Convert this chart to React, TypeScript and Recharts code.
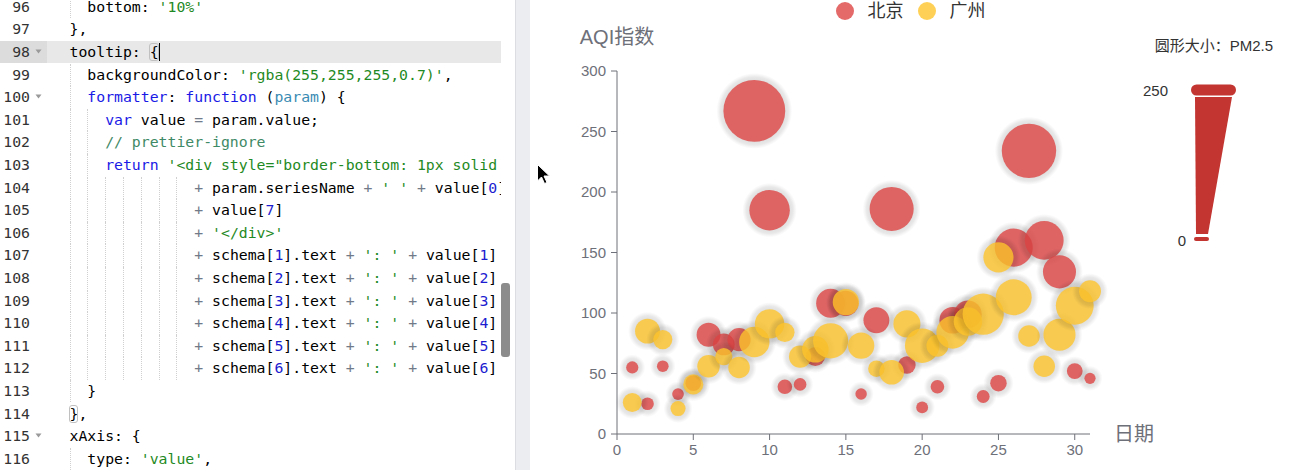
import { ScatterChart, Scatter, XAxis, YAxis } from "recharts";

// --- chart data (AQI scatter, one point per day) ---
const days = [1, 2, 3, 4, 5, 6, 7, 8, 9, 10, 11, 12, 13, 14, 15, 16, 17, 18, 19, 20, 21, 22, 23, 24, 25, 26, 27, 28, 29, 30, 31];
const bjAqi = [55, 25, 56, 33, 42, 82, 74, 78, 267, 185, 39, 41, 64, 108, 108, 33, 94, 186, 57, 22, 39, 94, 99, 31, 42, 154, 234, 160, 134, 52, 46];
const bjPm25 = [9, 11, 7, 7, 24, 58, 49, 55, 216, 127, 19, 11, 38, 79, 63, 6, 66, 142, 31, 8, 15, 69, 73, 12, 27, 117, 185, 120, 96, 24, 5];
const gzAqi = [26, 85, 78, 21, 41, 56, 64, 55, 76, 91, 84, 64, 70, 77, 109, 73, 54, 51, 91, 73, 73, 84, 93, 99, 146, 113, 81, 56, 82, 106, 118];
const gzPm25 = [37, 62, 38, 21, 42, 52, 30, 48, 85, 81, 39, 51, 69, 105, 68, 68, 27, 61, 71, 102, 50, 94, 77, 130, 84, 108, 48, 48, 92, 116, 50];

const seriesNames = ["北京", "广州"];
const seriesColors = ["#dd4444", "#fec42c"];
const xTicks = [0, 5, 10, 15, 20, 25, 30];
const yTicks = [0, 50, 100, 150, 200, 250, 300];
const pmRange = [0, 250];
const sizeRange = [10, 70];

// --- editor text shown on the left (token text, token kind) ---
type Tok = [string, string];
const S16 = "                ";
const schemaLine = (n: number): Tok[] => [
  [S16, "t"], ["+", "o"], [" schema[", "t"], [String(n), "n"], ["].text ", "t"], ["+", "o"], [" ", "t"],
  ["': '", "s"], [" ", "t"], ["+", "o"], [" value[", "t"], [String(n), "n"], ["] ", "t"], ["+", "o"], [" ", "t"], ["'<br>'", "s"],
];
const codeLines: Tok[][] = [
  [["    bottom: ", "t"], ["'10%'", "s"]],
  [["  },", "t"]],
  [["  tooltip: {", "t"]],
  [["    backgroundColor: ", "t"], ["'rgba(255,255,255,0.7)'", "s"], [",", "t"]],
  [["    ", "t"], ["formatter", "k"], [": ", "t"], ["function", "k"], [" (", "t"], ["param", "p"], [") {", "t"]],
  [["      ", "t"], ["var", "k"], [" value ", "t"], ["=", "o"], [" param.value;", "t"]],
  [["      // prettier-ignore", "c"]],
  [["      ", "t"], ["return", "k"], [" ", "t"], ["'<div style=\"border-bottom: 1px solid rgba(255,255,255,.3); font-size: 18px;padding-bottom: 7px;margin-bottom: 7px\">'", "s"]],
  [[S16, "t"], ["+", "o"], [" param.seriesName ", "t"], ["+", "o"], [" ", "t"], ["' '", "s"], [" ", "t"], ["+", "o"], [" value[", "t"], ["0", "n"], ["] ", "t"], ["+", "o"], [" ", "t"], ["'日：'", "s"]],
  [[S16, "t"], ["+", "o"], [" value[", "t"], ["7", "n"], ["]", "t"]],
  [[S16, "t"], ["+", "o"], [" ", "t"], ["'</div>'", "s"]],
  schemaLine(1),
  schemaLine(2),
  schemaLine(3),
  schemaLine(4),
  schemaLine(5),
  schemaLine(6),
  [["    }", "t"]],
  [["  },", "t"]],
  [["  xAxis: {", "t"]],
  [["    type: ", "t"], ["'value'", "s"], [",", "t"]],
];
const firstLineNo = 96;
const foldLines = [98, 100, 115];
const activeLine = 98;

const tokenColors: Record<string, string> = {
  t: "#000000",
  k: "#1a1ae6",
  s: "#1f8a24",
  c: "#3f8a66",
  p: "#3a8bb3",
  n: "#1c1cd0",
  o: "#707a88",
};

const monoFont = "'DejaVu Sans Mono', monospace";
const chartFont = "'Liberation Sans', 'Noto Sans CJK SC', sans-serif";
const CHAR_W = 8.91;
const LINE_H = 22.6;
const CODE_X = 51.7;
const TOP0 = -4.3;
const AXIS_GRAY = "#6e7079";
const HALO = 7;

type Point = { day: number; aqi: number; pm25: number };

function buildSeries(aqi: number[], pm: number[]): Point[] {
  return days.map((d, i) => ({ day: d, aqi: aqi[i], pm25: pm[i] }));
}

const seriesData = [buildSeries(bjAqi, bjPm25), buildSeries(gzAqi, gzPm25)];

/** Visual map: PM2.5 value -> bubble diameter. */
function bubbleDiameter(pm: number): number {
  const t = Math.min(1, Math.max(0, (pm - pmRange[0]) / (pmRange[1] - pmRange[0])));
  return sizeRange[0] + t * (sizeRange[1] - sizeRange[0]);
}

/** Bubble with a soft grey halo drawn right under it (ECharts shadowBlur look). */
function bubbleShape(seriesIdx: number) {
  const color = seriesColors[seriesIdx];
  return (props: any) => {
    const { cx, cy, payload } = props;
    if (cx == null || cy == null) return <g />;
    const r = bubbleDiameter(payload.pm25) / 2;
    const R = r + HALO;
    const gid = `halo-${seriesIdx}-${payload.day}`;
    return (
      <g>
        <defs>
          <radialGradient id={gid} cx={cx} cy={cy} r={R} gradientUnits="userSpaceOnUse">
            <stop offset={r / R} stopColor="#000" stopOpacity={0.12} />
            <stop offset={(r + 3) / R} stopColor="#000" stopOpacity={0.09} />
            <stop offset={(r + 5) / R} stopColor="#000" stopOpacity={0.04} />
            <stop offset={1} stopColor="#000" stopOpacity={0} />
          </radialGradient>
        </defs>
        <circle cx={cx} cy={cy} r={R} fill={`url(#${gid})`} />
        <circle cx={cx} cy={cy} r={r} fill={color} fillOpacity={0.8} />
      </g>
    );
  };
}

function CodePanel() {
  return (
    <div style={{ position: "absolute", left: 0, top: 0, width: 501, height: 470, overflow: "hidden", background: "#fff" }}>
      {codeLines.map((toks, i) => {
        const no = firstLineNo + i;
        const top = TOP0 + i * LINE_H;
        const lead = toks[0][0].length - toks[0][0].trimStart().length;
        const guides: number[] = [];
        for (let c = 2; c < lead; c += 2) guides.push(c);
        return (
          <div key={no} style={{ position: "absolute", left: 0, top, width: 501, height: LINE_H }}>
            {no === activeLine && (
              <>
                <div style={{ position: "absolute", left: 0, top: 0, width: 47, height: LINE_H, background: "#dcdcdc" }} />
                <div style={{ position: "absolute", left: 47, top: 0, width: 454, height: LINE_H, background: "#e8e8e8" }} />
              </>
            )}
            {guides.map((c) => (
              <div
                key={c}
                style={{
                  position: "absolute",
                  left: CODE_X + c * CHAR_W,
                  top: 0,
                  height: LINE_H,
                  borderLeft: "1px dotted #d0d0d0",
                }}
              />
            ))}
            <div
              style={{
                position: "absolute",
                left: 0,
                width: 30,
                top: 0,
                textAlign: "right",
                font: `14.8px ${monoFont}`,
                lineHeight: `${LINE_H}px`,
                color: "#333",
              }}
            >
              {no}
            </div>
            {foldLines.includes(no) && (
              <svg style={{ position: "absolute", left: 35, top: LINE_H / 2 - 3 }} width={8} height={6}>
                <path d="M0.5 0.5 L6.5 0.5 L3.5 4.5 Z" fill="#9a9a9a" />
              </svg>
            )}
            <div
              style={{
                position: "absolute",
                left: CODE_X,
                top: 0,
                whiteSpace: "pre",
                font: `14.8px ${monoFont}`,
                lineHeight: `${LINE_H}px`,
              }}
            >
              {toks.map(([text, kind], j) => (
                <span key={j} style={{ color: tokenColors[kind] }}>
                  {text}
                </span>
              ))}
            </div>
          </div>
        );
      })}
      {/* matching-bracket boxes and the text cursor */}
      <div style={{ position: "absolute", left: CODE_X + 11 * CHAR_W - 1, top: TOP0 + 2 * LINE_H + 2, width: CHAR_W + 1, height: LINE_H - 4, border: "1px solid #c0c0c0", borderRadius: 3, boxSizing: "border-box" }} />
      <div style={{ position: "absolute", left: CODE_X + 12 * CHAR_W, top: TOP0 + 2 * LINE_H + 2, width: 1.5, height: LINE_H - 4, background: "#000" }} />
      <div style={{ position: "absolute", left: CODE_X + 2 * CHAR_W - 1, top: TOP0 + 18 * LINE_H + 2, width: CHAR_W + 1, height: LINE_H - 4, border: "1px solid #c0c0c0", borderRadius: 3, boxSizing: "border-box" }} />
    </div>
  );
}

function VisualMapLegend() {
  const red = "#c23531";
  return (
    <svg style={{ position: "absolute", left: 0, top: 0, pointerEvents: "none" }} width={1291} height={470}>
      <text x={1273} y={45} textAnchor="end" dominantBaseline="central" fontSize={15} fill="#333" fontFamily={chartFont}>
        圆形大小：PM2.5
      </text>
      <text x={1168} y={90} textAnchor="end" dominantBaseline="central" fontSize={15} fill="#333" fontFamily={chartFont}>
        {pmRange[1]}
      </text>
      <text x={1186} y={240} textAnchor="end" dominantBaseline="central" fontSize={15} fill="#333" fontFamily={chartFont}>
        {pmRange[0]}
      </text>
      <polygon points="1195,97 1232,97 1208,234 1196,234" fill={red} />
      <rect x={1191} y={84.5} width={45} height={11} rx={5.5} fill={red} />
      <rect x={1194} y={237} width={15} height={4} rx={2} fill={red} />
      {/* mouse pointer left in the screenshot */}
      <path d="M537.5 164.5 L537.5 181 L541.5 177 L544.5 183.5 L547 182.5 L544 176 L549.5 176 Z" fill="#000" stroke="#fff" strokeWidth={1} />
    </svg>
  );
}

export default function App() {
  return (
    <div style={{ position: "absolute", left: 0, top: 0, width: 1291, height: 470, background: "#fff", overflow: "hidden" }}>
      <CodePanel />
      <div style={{ position: "absolute", left: 501, top: 283, width: 9, height: 74, background: "#8c8c8c", borderRadius: 3 }} />
      <div style={{ position: "absolute", left: 515, top: 0, width: 1, height: 470, background: "#dcdde2" }} />
      <div style={{ position: "absolute", left: 516, top: 0, width: 14, height: 470, background: "#ecedf1" }} />
      <div style={{ position: "absolute", left: 530, top: 0, width: 761, height: 470, background: "#fff", fontFamily: chartFont }}>
        <div style={{ position: "absolute", left: 0, top: 2, width: 761, display: "flex", justifyContent: "center", alignItems: "center", gap: 14 }}>
          {seriesNames.map((name, i) => (
            <div key={name} style={{ display: "flex", alignItems: "center", gap: 14 }}>
              <span style={{ width: 18, height: 18, borderRadius: 9, background: seriesColors[i], opacity: 0.8, display: "inline-block" }} />
              <span style={{ fontSize: 18, lineHeight: "18px", color: "#333" }}>{name}</span>
            </div>
          ))}
        </div>
        <ScatterChart width={761} height={470} margin={{ top: 71, right: 201, bottom: 6, left: 27 }} style={{ overflow: "visible" }}>
          <XAxis
            type="number"
            dataKey="day"
            domain={[0, 31]}
            ticks={xTicks}
            height={30}
            tickSize={6}
            tickMargin={4}
            axisLine={{ stroke: AXIS_GRAY }}
            tickLine={{ stroke: AXIS_GRAY }}
            tick={{ fill: AXIS_GRAY, fontSize: 15, fontFamily: chartFont }}
            label={{
              content: (p: any) => {
                const vb = p.viewBox || {};
                return (
                  <text x={vb.x + vb.width + 24} y={vb.y} dominantBaseline="central" fontSize={20} fill={AXIS_GRAY} fontFamily={chartFont}>
                    日期
                  </text>
                );
              },
            }}
          />
          <YAxis
            type="number"
            dataKey="aqi"
            domain={[0, 300]}
            ticks={yTicks}
            width={60}
            tickSize={6}
            tickMargin={5}
            axisLine={{ stroke: AXIS_GRAY }}
            tickLine={{ stroke: AXIS_GRAY }}
            tick={{ fill: AXIS_GRAY, fontSize: 15, fontFamily: chartFont }}
            label={{
              content: (p: any) => {
                const vb = p.viewBox || {};
                return (
                  <text x={vb.x + vb.width} y={vb.y - 34} textAnchor="middle" dominantBaseline="central" fontSize={20} fill={AXIS_GRAY} fontFamily={chartFont}>
                    AQI指数
                  </text>
                );
              },
            }}
          />
          {seriesNames.map((name, i) => (
            <Scatter
              key={name}
              name={name}
              data={seriesData[i]}
              fill={seriesColors[i]}
              shape={bubbleShape(i)}
              isAnimationActive={false}
            />
          ))}
        </ScatterChart>
      </div>
      <VisualMapLegend />
    </div>
  );
}
